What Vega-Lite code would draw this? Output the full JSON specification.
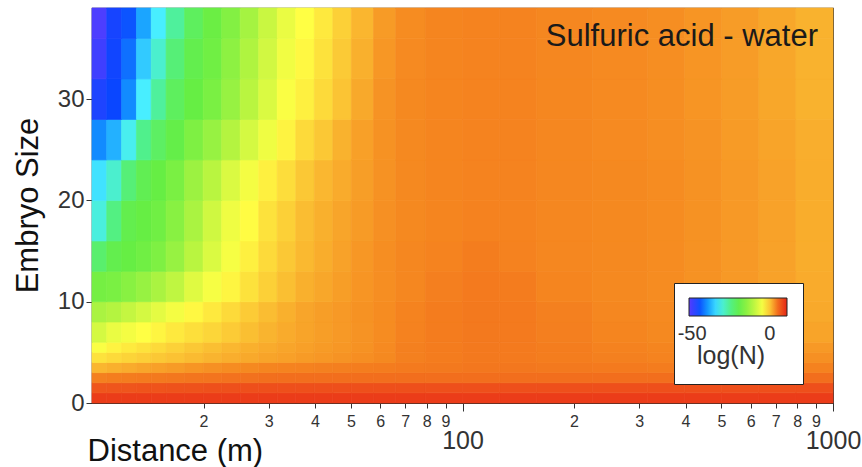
{
"$schema": "https://vega.github.io/schema/vega-lite/v6.json",
"width": 741, "height": 395,
"autosize": {"type": "none"},
"padding": {"left": 92, "top": 8, "right": 29, "bottom": 64},
"background": "white",
"config": {"font": "Liberation Sans", "view": {"stroke": "#2a2a2a", "strokeWidth": 1.2}},
"title": {"text": "Sulfuric acid - water", "anchor": "end", "frame": "group", "orient": "top", "offset": -39, "dx": -15, "dy": 30, "fontSize": 31, "fontWeight": "normal", "color": "#1a1a1a", "font": "Liberation Sans", "baseline": "alphabetic"},
"datasets": {
"cols": [{"c":1,"x0":10,"x1":10.96},{"c":2,"x0":10.96,"x1":12.02},{"c":3,"x0":12.02,"x1":13.18},{"c":4,"x0":13.18,"x1":14.45},{"c":5,"x0":14.45,"x1":15.85},{"c":6,"x0":15.85,"x1":17.78},{"c":7,"x0":17.78,"x1":19.95},{"c":8,"x0":19.95,"x1":22.39},{"c":9,"x0":22.39,"x1":25.12},{"c":10,"x0":25.12,"x1":28.18},{"c":11,"x0":28.18,"x1":31.62},{"c":12,"x0":31.62,"x1":35.48},{"c":13,"x0":35.48,"x1":39.81},{"c":14,"x0":39.81,"x1":44.67},{"c":15,"x0":44.67,"x1":50.12},{"c":16,"x0":50.12,"x1":57.54},{"c":17,"x0":57.54,"x1":66.07},{"c":18,"x0":66.07,"x1":79.43},{"c":19,"x0":79.43,"x1":100},{"c":20,"x0":100,"x1":125.9},{"c":21,"x0":125.9,"x1":158.5},{"c":22,"x0":158.5,"x1":223.9},{"c":23,"x0":223.9,"x1":316.2},{"c":24,"x0":316.2,"x1":398.1},{"c":25,"x0":398.1,"x1":501.2},{"c":26,"x0":501.2,"x1":631},{"c":27,"x0":631,"x1":794.3},{"c":28,"x0":794.3,"x1":1000}],
"rows": [{"r":1,"y0":0,"y1":1},{"r":2,"y0":1,"y1":2},{"r":3,"y0":2,"y1":3},{"r":4,"y0":3,"y1":4},{"r":5,"y0":4,"y1":5},{"r":6,"y0":5,"y1":6},{"r":7,"y0":6,"y1":8},{"r":8,"y0":8,"y1":10},{"r":9,"y0":10,"y1":13},{"r":10,"y0":13,"y1":16},{"r":11,"y0":16,"y1":20},{"r":12,"y0":20,"y1":24},{"r":13,"y0":24,"y1":28},{"r":14,"y0":28,"y1":32},{"r":15,"y0":32,"y1":36},{"r":16,"y0":36,"y1":39}],
"cells": [
{"r":1,"c":1,"n":8.5},{"r":1,"c":2,"n":8.5},{"r":1,"c":3,"n":8.5},{"r":1,"c":4,"n":8.5},{"r":1,"c":5,"n":8.5},{"r":1,"c":6,"n":8.5},{"r":1,"c":7,"n":8.5},{"r":1,"c":8,"n":8.5},{"r":1,"c":9,"n":8.5},{"r":1,"c":10,"n":8.5},{"r":1,"c":11,"n":8.5},{"r":1,"c":12,"n":8.5},{"r":1,"c":13,"n":8.5},{"r":1,"c":14,"n":8.5},{"r":1,"c":15,"n":8.5},{"r":1,"c":16,"n":8.5},{"r":1,"c":17,"n":8.5},{"r":1,"c":18,"n":8.5},{"r":1,"c":19,"n":8.5},{"r":1,"c":20,"n":8.5},{"r":1,"c":21,"n":8.5},{"r":1,"c":22,"n":8.5},{"r":1,"c":23,"n":8.5},{"r":1,"c":24,"n":8.5},{"r":1,"c":25,"n":8.5},{"r":1,"c":26,"n":8.5},{"r":1,"c":27,"n":8.5},{"r":1,"c":28,"n":8.5},
{"r":2,"c":1,"n":6.5},{"r":2,"c":2,"n":6.6},{"r":2,"c":3,"n":6.6},{"r":2,"c":4,"n":6.7},{"r":2,"c":5,"n":6.7},{"r":2,"c":6,"n":6.8},{"r":2,"c":7,"n":6.8},{"r":2,"c":8,"n":6.9},{"r":2,"c":9,"n":6.9},{"r":2,"c":10,"n":7},{"r":2,"c":11,"n":7},{"r":2,"c":12,"n":7},{"r":2,"c":13,"n":7},{"r":2,"c":14,"n":7},{"r":2,"c":15,"n":7},{"r":2,"c":16,"n":7},{"r":2,"c":17,"n":7},{"r":2,"c":18,"n":7},{"r":2,"c":19,"n":7},{"r":2,"c":20,"n":7},{"r":2,"c":21,"n":7},{"r":2,"c":22,"n":7},{"r":2,"c":23,"n":7},{"r":2,"c":24,"n":7},{"r":2,"c":25,"n":7},{"r":2,"c":26,"n":7},{"r":2,"c":27,"n":7},{"r":2,"c":28,"n":7},
{"r":3,"c":1,"n":3.8},{"r":3,"c":2,"n":4},{"r":3,"c":3,"n":4.1},{"r":3,"c":4,"n":4.2},{"r":3,"c":5,"n":4.3},{"r":3,"c":6,"n":4.4},{"r":3,"c":7,"n":4.5},{"r":3,"c":8,"n":4.6},{"r":3,"c":9,"n":4.7},{"r":3,"c":10,"n":4.8},{"r":3,"c":11,"n":4.9},{"r":3,"c":12,"n":5},{"r":3,"c":13,"n":5},{"r":3,"c":14,"n":5},{"r":3,"c":15,"n":5},{"r":3,"c":16,"n":5},{"r":3,"c":17,"n":5},{"r":3,"c":18,"n":5},{"r":3,"c":19,"n":5},{"r":3,"c":20,"n":5},{"r":3,"c":21,"n":5},{"r":3,"c":22,"n":5},{"r":3,"c":23,"n":5},{"r":3,"c":24,"n":5},{"r":3,"c":25,"n":5},{"r":3,"c":26,"n":5},{"r":3,"c":27,"n":5},{"r":3,"c":28,"n":5},
{"r":4,"c":1,"n":0.8},{"r":4,"c":2,"n":1.1},{"r":4,"c":3,"n":1.4},{"r":4,"c":4,"n":1.7},{"r":4,"c":5,"n":2},{"r":4,"c":6,"n":2.3},{"r":4,"c":7,"n":2.6},{"r":4,"c":8,"n":2.9},{"r":4,"c":9,"n":3.1},{"r":4,"c":10,"n":3.3},{"r":4,"c":11,"n":3.5},{"r":4,"c":12,"n":3.6},{"r":4,"c":13,"n":3.7},{"r":4,"c":14,"n":3.8},{"r":4,"c":15,"n":3.9},{"r":4,"c":16,"n":4},{"r":4,"c":17,"n":4.1},{"r":4,"c":18,"n":4.2},{"r":4,"c":19,"n":4.3},{"r":4,"c":20,"n":4.4},{"r":4,"c":21,"n":4.4},{"r":4,"c":22,"n":4.3},{"r":4,"c":23,"n":4.2},{"r":4,"c":24,"n":4.1},{"r":4,"c":25,"n":4},{"r":4,"c":26,"n":3.9},{"r":4,"c":27,"n":3.8},{"r":4,"c":28,"n":3.7},
{"r":5,"c":1,"n":-2},{"r":5,"c":2,"n":-1.5},{"r":5,"c":3,"n":-1.1},{"r":5,"c":4,"n":-0.7},{"r":5,"c":5,"n":-0.3},{"r":5,"c":6,"n":0.1},{"r":5,"c":7,"n":0.5},{"r":5,"c":8,"n":0.9},{"r":5,"c":9,"n":1.2},{"r":5,"c":10,"n":1.5},{"r":5,"c":11,"n":1.8},{"r":5,"c":12,"n":2},{"r":5,"c":13,"n":2.3},{"r":5,"c":14,"n":2.5},{"r":5,"c":15,"n":2.7},{"r":5,"c":16,"n":3},{"r":5,"c":17,"n":3.3},{"r":5,"c":18,"n":3.8},{"r":5,"c":19,"n":4.1},{"r":5,"c":20,"n":4.3},{"r":5,"c":21,"n":4.2},{"r":5,"c":22,"n":4},{"r":5,"c":23,"n":3.8},{"r":5,"c":24,"n":3.6},{"r":5,"c":25,"n":3.5},{"r":5,"c":26,"n":3.3},{"r":5,"c":27,"n":3.1},{"r":5,"c":28,"n":2.9},
{"r":6,"c":1,"n":-4.5},{"r":6,"c":2,"n":-3.2},{"r":6,"c":3,"n":-2.6},{"r":6,"c":4,"n":-2},{"r":6,"c":5,"n":-1.5},{"r":6,"c":6,"n":-0.9},{"r":6,"c":7,"n":-0.3},{"r":6,"c":8,"n":0.3},{"r":6,"c":9,"n":0.7},{"r":6,"c":10,"n":1.1},{"r":6,"c":11,"n":1.4},{"r":6,"c":12,"n":1.7},{"r":6,"c":13,"n":2},{"r":6,"c":14,"n":2.3},{"r":6,"c":15,"n":2.5},{"r":6,"c":16,"n":2.8},{"r":6,"c":17,"n":3.2},{"r":6,"c":18,"n":3.8},{"r":6,"c":19,"n":4.1},{"r":6,"c":20,"n":4.3},{"r":6,"c":21,"n":4.2},{"r":6,"c":22,"n":4},{"r":6,"c":23,"n":3.7},{"r":6,"c":24,"n":3.5},{"r":6,"c":25,"n":3.3},{"r":6,"c":26,"n":3.1},{"r":6,"c":27,"n":2.8},{"r":6,"c":28,"n":2.4},
{"r":7,"c":1,"n":-8},{"r":7,"c":2,"n":-6},{"r":7,"c":3,"n":-5},{"r":7,"c":4,"n":-4},{"r":7,"c":5,"n":-3.3},{"r":7,"c":6,"n":-2.5},{"r":7,"c":7,"n":-1.8},{"r":7,"c":8,"n":-1.2},{"r":7,"c":9,"n":-0.5},{"r":7,"c":10,"n":0.3},{"r":7,"c":11,"n":0.9},{"r":7,"c":12,"n":1.4},{"r":7,"c":13,"n":1.8},{"r":7,"c":14,"n":2.1},{"r":7,"c":15,"n":2.4},{"r":7,"c":16,"n":2.7},{"r":7,"c":17,"n":3.1},{"r":7,"c":18,"n":3.7},{"r":7,"c":19,"n":4.1},{"r":7,"c":20,"n":4.3},{"r":7,"c":21,"n":4.2},{"r":7,"c":22,"n":3.9},{"r":7,"c":23,"n":3.5},{"r":7,"c":24,"n":3.3},{"r":7,"c":25,"n":3},{"r":7,"c":26,"n":2.7},{"r":7,"c":27,"n":2.3},{"r":7,"c":28,"n":1.8},
{"r":8,"c":1,"n":-12},{"r":8,"c":2,"n":-11},{"r":8,"c":3,"n":-9.5},{"r":8,"c":4,"n":-8},{"r":8,"c":5,"n":-6.5},{"r":8,"c":6,"n":-5},{"r":8,"c":7,"n":-3.5},{"r":8,"c":8,"n":-2.5},{"r":8,"c":9,"n":-1.5},{"r":8,"c":10,"n":-0.5},{"r":8,"c":11,"n":0.4},{"r":8,"c":12,"n":1.1},{"r":8,"c":13,"n":1.7},{"r":8,"c":14,"n":2.1},{"r":8,"c":15,"n":2.4},{"r":8,"c":16,"n":2.8},{"r":8,"c":17,"n":3.1},{"r":8,"c":18,"n":3.6},{"r":8,"c":19,"n":4.1},{"r":8,"c":20,"n":4.3},{"r":8,"c":21,"n":4.2},{"r":8,"c":22,"n":3.8},{"r":8,"c":23,"n":3.4},{"r":8,"c":24,"n":3.2},{"r":8,"c":25,"n":2.9},{"r":8,"c":26,"n":2.5},{"r":8,"c":27,"n":2},{"r":8,"c":28,"n":1.5},
{"r":9,"c":1,"n":-17.5},{"r":9,"c":2,"n":-17},{"r":9,"c":3,"n":-15.5},{"r":9,"c":4,"n":-14},{"r":9,"c":5,"n":-12},{"r":9,"c":6,"n":-10},{"r":9,"c":7,"n":-7},{"r":9,"c":8,"n":-4.8},{"r":9,"c":9,"n":-3.3},{"r":9,"c":10,"n":-2},{"r":9,"c":11,"n":-0.8},{"r":9,"c":12,"n":0.3},{"r":9,"c":13,"n":1.1},{"r":9,"c":14,"n":1.6},{"r":9,"c":15,"n":2.1},{"r":9,"c":16,"n":2.6},{"r":9,"c":17,"n":3},{"r":9,"c":18,"n":3.4},{"r":9,"c":19,"n":3.9},{"r":9,"c":20,"n":4.2},{"r":9,"c":21,"n":4.1},{"r":9,"c":22,"n":3.5},{"r":9,"c":23,"n":3.3},{"r":9,"c":24,"n":3.1},{"r":9,"c":25,"n":2.8},{"r":9,"c":26,"n":2.4},{"r":9,"c":27,"n":1.9},{"r":9,"c":28,"n":1.4},
{"r":10,"c":1,"n":-23},{"r":10,"c":2,"n":-20},{"r":10,"c":3,"n":-19},{"r":10,"c":4,"n":-18},{"r":10,"c":5,"n":-16.5},{"r":10,"c":6,"n":-14},{"r":10,"c":7,"n":-10.5},{"r":10,"c":8,"n":-7.5},{"r":10,"c":9,"n":-4.8},{"r":10,"c":10,"n":-3},{"r":10,"c":11,"n":-1.5},{"r":10,"c":12,"n":-0.3},{"r":10,"c":13,"n":0.6},{"r":10,"c":14,"n":1.3},{"r":10,"c":15,"n":1.9},{"r":10,"c":16,"n":2.5},{"r":10,"c":17,"n":3},{"r":10,"c":18,"n":3.4},{"r":10,"c":19,"n":3.6},{"r":10,"c":20,"n":4},{"r":10,"c":21,"n":3.7},{"r":10,"c":22,"n":3.4},{"r":10,"c":23,"n":3.3},{"r":10,"c":24,"n":3.1},{"r":10,"c":25,"n":2.8},{"r":10,"c":26,"n":2.4},{"r":10,"c":27,"n":1.9},{"r":10,"c":28,"n":1.3},
{"r":11,"c":1,"n":-31},{"r":11,"c":2,"n":-25},{"r":11,"c":3,"n":-20},{"r":11,"c":4,"n":-19},{"r":11,"c":5,"n":-18},{"r":11,"c":6,"n":-15.5},{"r":11,"c":7,"n":-12},{"r":11,"c":8,"n":-8.5},{"r":11,"c":9,"n":-5.5},{"r":11,"c":10,"n":-3.8},{"r":11,"c":11,"n":-2},{"r":11,"c":12,"n":-0.8},{"r":11,"c":13,"n":0.4},{"r":11,"c":14,"n":1.1},{"r":11,"c":15,"n":1.7},{"r":11,"c":16,"n":2.3},{"r":11,"c":17,"n":2.9},{"r":11,"c":18,"n":3.3},{"r":11,"c":19,"n":3.5},{"r":11,"c":20,"n":3.7},{"r":11,"c":21,"n":3.6},{"r":11,"c":22,"n":3.4},{"r":11,"c":23,"n":3.3},{"r":11,"c":24,"n":3.1},{"r":11,"c":25,"n":2.8},{"r":11,"c":26,"n":2.4},{"r":11,"c":27,"n":1.9},{"r":11,"c":28,"n":1.3},
{"r":12,"c":1,"n":-34},{"r":12,"c":2,"n":-30},{"r":12,"c":3,"n":-24},{"r":12,"c":4,"n":-20.5},{"r":12,"c":5,"n":-19},{"r":12,"c":6,"n":-17},{"r":12,"c":7,"n":-13.5},{"r":12,"c":8,"n":-10.5},{"r":12,"c":9,"n":-7.5},{"r":12,"c":10,"n":-5},{"r":12,"c":11,"n":-3},{"r":12,"c":12,"n":-1.7},{"r":12,"c":13,"n":-0.3},{"r":12,"c":14,"n":0.7},{"r":12,"c":15,"n":1.4},{"r":12,"c":16,"n":2.1},{"r":12,"c":17,"n":2.8},{"r":12,"c":18,"n":3.3},{"r":12,"c":19,"n":3.5},{"r":12,"c":20,"n":3.6},{"r":12,"c":21,"n":3.6},{"r":12,"c":22,"n":3.4},{"r":12,"c":23,"n":3.3},{"r":12,"c":24,"n":3.1},{"r":12,"c":25,"n":2.8},{"r":12,"c":26,"n":2.4},{"r":12,"c":27,"n":1.9},{"r":12,"c":28,"n":1.3},
{"r":13,"c":1,"n":-41},{"r":13,"c":2,"n":-38},{"r":13,"c":3,"n":-32},{"r":13,"c":4,"n":-26},{"r":13,"c":5,"n":-22},{"r":13,"c":6,"n":-19.5},{"r":13,"c":7,"n":-16.5},{"r":13,"c":8,"n":-14},{"r":13,"c":9,"n":-11},{"r":13,"c":10,"n":-8},{"r":13,"c":11,"n":-5.5},{"r":13,"c":12,"n":-3.2},{"r":13,"c":13,"n":-1.5},{"r":13,"c":14,"n":-0.3},{"r":13,"c":15,"n":1},{"r":13,"c":16,"n":2},{"r":13,"c":17,"n":2.8},{"r":13,"c":18,"n":3.3},{"r":13,"c":19,"n":3.5},{"r":13,"c":20,"n":3.6},{"r":13,"c":21,"n":3.6},{"r":13,"c":22,"n":3.4},{"r":13,"c":23,"n":3.2},{"r":13,"c":24,"n":3},{"r":13,"c":25,"n":2.7},{"r":13,"c":26,"n":2.3},{"r":13,"c":27,"n":1.8},{"r":13,"c":28,"n":1.2},
{"r":14,"c":1,"n":-47.5},{"r":14,"c":2,"n":-46},{"r":14,"c":3,"n":-41},{"r":14,"c":4,"n":-33},{"r":14,"c":5,"n":-27},{"r":14,"c":6,"n":-21.5},{"r":14,"c":7,"n":-19},{"r":14,"c":8,"n":-17},{"r":14,"c":9,"n":-14},{"r":14,"c":10,"n":-10.5},{"r":14,"c":11,"n":-7.5},{"r":14,"c":12,"n":-4.5},{"r":14,"c":13,"n":-3},{"r":14,"c":14,"n":-1.5},{"r":14,"c":15,"n":0},{"r":14,"c":16,"n":1.5},{"r":14,"c":17,"n":2.7},{"r":14,"c":18,"n":3.3},{"r":14,"c":19,"n":3.5},{"r":14,"c":20,"n":3.6},{"r":14,"c":21,"n":3.6},{"r":14,"c":22,"n":3.4},{"r":14,"c":23,"n":3.2},{"r":14,"c":24,"n":3},{"r":14,"c":25,"n":2.6},{"r":14,"c":26,"n":2.2},{"r":14,"c":27,"n":1.6},{"r":14,"c":28,"n":1},
{"r":15,"c":1,"n":-50},{"r":15,"c":2,"n":-46.5},{"r":15,"c":3,"n":-43},{"r":15,"c":4,"n":-36},{"r":15,"c":5,"n":-30},{"r":15,"c":6,"n":-24},{"r":15,"c":7,"n":-20},{"r":15,"c":8,"n":-18},{"r":15,"c":9,"n":-15},{"r":15,"c":10,"n":-11.5},{"r":15,"c":11,"n":-8.3},{"r":15,"c":12,"n":-5.3},{"r":15,"c":13,"n":-3.5},{"r":15,"c":14,"n":-2},{"r":15,"c":15,"n":-0.4},{"r":15,"c":16,"n":1.1},{"r":15,"c":17,"n":2.5},{"r":15,"c":18,"n":3.2},{"r":15,"c":19,"n":3.5},{"r":15,"c":20,"n":3.6},{"r":15,"c":21,"n":3.6},{"r":15,"c":22,"n":3.4},{"r":15,"c":23,"n":3.2},{"r":15,"c":24,"n":3},{"r":15,"c":25,"n":2.6},{"r":15,"c":26,"n":2.2},{"r":15,"c":27,"n":1.6},{"r":15,"c":28,"n":1},
{"r":16,"c":1,"n":-51},{"r":16,"c":2,"n":-47},{"r":16,"c":3,"n":-45},{"r":16,"c":4,"n":-39},{"r":16,"c":5,"n":-33},{"r":16,"c":6,"n":-27},{"r":16,"c":7,"n":-21.5},{"r":16,"c":8,"n":-18.5},{"r":16,"c":9,"n":-16},{"r":16,"c":10,"n":-12.5},{"r":16,"c":11,"n":-9},{"r":16,"c":12,"n":-6},{"r":16,"c":13,"n":-4},{"r":16,"c":14,"n":-2.5},{"r":16,"c":15,"n":-0.8},{"r":16,"c":16,"n":0.8},{"r":16,"c":17,"n":2.3},{"r":16,"c":18,"n":3.1},{"r":16,"c":19,"n":3.5},{"r":16,"c":20,"n":3.6},{"r":16,"c":21,"n":3.6},{"r":16,"c":22,"n":3.4},{"r":16,"c":23,"n":3.2},{"r":16,"c":24,"n":3},{"r":16,"c":25,"n":2.6},{"r":16,"c":26,"n":2.2},{"r":16,"c":27,"n":1.6},{"r":16,"c":28,"n":1}
]
},
"data": {"name": "cells"},
"transform": [
{"lookup": "c", "from": {"data": {"name": "cols"}, "key": "c", "fields": ["x0", "x1"]}},
{"lookup": "r", "from": {"data": {"name": "rows"}, "key": "r", "fields": ["y0", "y1"]}}
],
"mark": {"type": "rect", "stroke": {"expr": "scale('color', datum.n)"}, "strokeWidth": 0.7},
"encoding": {
"x": {"field": "x0", "type": "quantitative", "scale": {"type": "log", "domain": [10, 1000], "nice": false},
 "axis": {"values": [20,30,40,50,60,70,80,90,100,200,300,400,500,600,700,800,900,1000],
  "labelExpr": "datum.value == 100 || datum.value == 1000 ? format(datum.value, 'd') : datum.value < 100 ? format(datum.value / 10, 'd') : format(datum.value / 100, 'd')",
  "labelFontSize": {"condition": {"test": "datum.value == 100 || datum.value == 1000", "value": 25}, "value": 16},
  "labelPadding": {"condition": {"test": "datum.value == 100 || datum.value == 1000", "value": 17}, "value": 5},
  "tickSize": {"condition": {"test": "datum.value == 100 || datum.value == 1000", "value": 8}, "value": 5},
  "labelColor": "#333333", "tickColor": "#333333", "domain": false, "grid": false,
  "labelFlush": false, "labelOverlap": false, "labelBound": false,
  "title": "Distance (m)", "titleFontSize": 31, "titleFontWeight": "normal", "titleColor": "#111111",
  "titleAnchor": "start", "titleAlign": "left", "titleX": -5, "titleY": 57, "titleBaseline": "alphabetic"}},
"x2": {"field": "x1"},
"y": {"field": "y0", "type": "quantitative", "scale": {"domain": [0, 39], "nice": false, "zero": false},
 "axis": {"values": [0, 10, 20, 30], "labelFontSize": 24, "labelColor": "#333333", "tickColor": "#333333", "tickSize": 6, "labelPadding": 2,
  "domain": false, "grid": false, "labelFlush": false,
  "title": "Embryo Size", "titleFontSize": 31, "titleFontWeight": "normal", "titleColor": "#111111",
  "titleAngle": -90, "titleX": -55, "titleY": 197, "titleAlign": "center", "titleBaseline": "alphabetic"}},
"y2": {"field": "y1"},
"color": {"field": "n", "type": "quantitative",
 "scale": {"domain": [-52, -46, -40, -33, -26, -19, -11, -4, 0, 3.5, 8, 11], "range": ["#5a3cff", "#0a46ff", "#1499ff", "#48eeff", "#50f08c", "#66ee44", "#b4f440", "#ffff44", "#fbc434", "#f5851f", "#ec3f1a", "#e42a16"], "interpolate": "rgb", "clamp": true},
 "legend": {"type": "gradient", "orient": "none", "legendX": 582, "legendY": 275, "direction": "horizontal", "gradientLength": 98, "gradientThickness": 18,
  "values": [-50, 0],
  "labelExpr": "datum.value == 0 ? '0' : '-50'",
  "title": "log(N)", "titleOrient": "bottom", "titleAnchor": "middle", "titleFontSize": 25, "titleFontWeight": "normal", "titleColor": "#333333",
  "labelFontSize": 20, "labelColor": "#333333", "labelOffset": 8, "titlePadding": 0, "padding": 15,
  "fillColor": "white", "strokeColor": "#222222", "gradientStrokeColor": "#222222", "gradientStrokeWidth": 1}}
}
}
